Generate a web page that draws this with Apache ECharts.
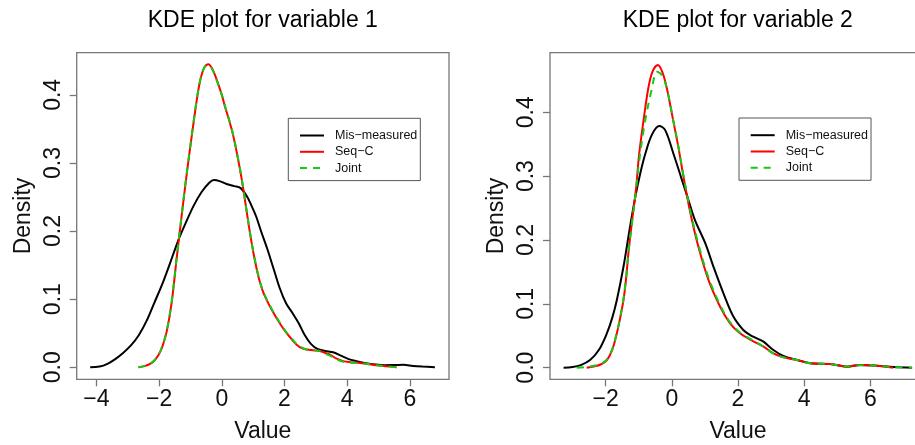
<!DOCTYPE html>
<html>
<head>
<meta charset="utf-8">
<script src="https://cdn.jsdelivr.net/npm/echarts@6/dist/echarts.min.js"></script>
<style>html,body{margin:0;padding:0;background:#fff}#c{width:915px;height:445px}</style>
</head>
<body>
<div id="c"></div>
<script>
// ---- Data ----
const titles = ['KDE plot for variable 1', 'KDE plot for variable 2'];
const seriesNames = ['Mis\u2212measured', 'Seq\u2212C', 'Joint'];
const xTicks1 = [-4, -2, 0, 2, 4, 6];
const xTicks2 = [-2, 0, 2, 4, 6];
const yTicks = [0, 0.1, 0.2, 0.3, 0.4];

// Variable 1
const v1MisX = [-4.20,-3.90,-3.65,-3.40,-3.15,-2.90,-2.65,-2.40,-2.15,-1.90,-1.65,-1.40,-1.15,-0.90,-0.65,-0.40,-0.25,-0.05,0.15,0.40,0.60,0.80,0.95,1.10,1.25,1.45,1.65,1.85,2.05,2.25,2.45,2.65,2.85,3.05,3.30,3.55,3.80,4.05,4.30,4.60,4.90,5.20,5.50,5.80,6.10,6.40,6.80];
const v1MisY = [0.000,0.001,0.005,0.012,0.021,0.032,0.047,0.068,0.095,0.122,0.153,0.185,0.212,0.237,0.257,0.271,0.275,0.273,0.269,0.266,0.263,0.251,0.237,0.221,0.200,0.174,0.145,0.116,0.094,0.080,0.065,0.047,0.034,0.027,0.024,0.022,0.017,0.012,0.009,0.006,0.004,0.003,0.0032,0.0035,0.002,0.001,0.000];
const v1SeqX = [-2.66,-2.45,-2.29,-2.15,-2.02,-1.90,-1.76,-1.60,-1.44,-1.30,-1.17,-1.04,-0.91,-0.80,-0.69,-0.56,-0.43,-0.30,-0.16,0.00,0.10,0.25,0.37,0.50,0.64,0.77,0.90,1.03,1.17,1.30,1.43,1.60,1.75,1.90,2.07,2.25,2.39,2.55,2.71,2.90,3.13,3.30,3.45,3.65,3.88,4.10,4.41,4.70,4.94,5.25,5.58];
const v1SeqY = [0.000,0.002,0.005,0.010,0.018,0.030,0.052,0.095,0.160,0.215,0.265,0.312,0.356,0.392,0.421,0.440,0.445,0.438,0.422,0.400,0.383,0.360,0.339,0.310,0.275,0.236,0.197,0.163,0.133,0.113,0.099,0.084,0.072,0.061,0.050,0.040,0.033,0.028,0.026,0.025,0.024,0.021,0.0186,0.013,0.009,0.0075,0.0064,0.0045,0.003,0.0015,0.000];
const v1JointX = [-2.66,-2.45,-2.29,-2.15,-2.02,-1.90,-1.76,-1.60,-1.44,-1.30,-1.17,-1.04,-0.91,-0.80,-0.69,-0.56,-0.43,-0.30,-0.16,0.00,0.10,0.25,0.37,0.50,0.64,0.77,0.90,1.03,1.17,1.30,1.43,1.60,1.75,1.90,2.07,2.25,2.39,2.55,2.71,2.90,3.13,3.30,3.45,3.65,3.88,4.10,4.41,4.70,4.94,5.25,5.58];
const v1JointY = [0.000,0.002,0.005,0.010,0.018,0.031,0.053,0.096,0.161,0.216,0.266,0.313,0.357,0.393,0.421,0.440,0.444,0.437,0.421,0.400,0.384,0.361,0.340,0.311,0.276,0.237,0.198,0.164,0.134,0.114,0.100,0.085,0.073,0.062,0.051,0.041,0.034,0.029,0.026,0.025,0.024,0.020,0.017,0.012,0.008,0.007,0.006,0.0045,0.003,0.0015,0.000];

// Variable 2
const v2MisX = [-3.27,-3.00,-2.75,-2.47,-2.20,-1.96,-1.80,-1.66,-1.46,-1.28,-1.10,-0.95,-0.80,-0.60,-0.38,-0.20,0.05,0.30,0.50,0.70,1.01,1.26,1.56,1.86,2.16,2.37,2.57,2.77,3.07,3.37,3.78,4.18,4.50,4.78,5.29,5.69,6.19,6.70,7.26];
const v2MisY = [0.000,0.001,0.004,0.012,0.028,0.054,0.078,0.106,0.158,0.215,0.268,0.305,0.335,0.365,0.3785,0.372,0.335,0.295,0.263,0.231,0.195,0.158,0.1165,0.080,0.059,0.051,0.046,0.0407,0.0277,0.0183,0.012,0.0069,0.0060,0.0058,0.0016,0.0042,0.0031,0.001,0.000];
const v2SeqX = [-2.57,-2.35,-2.15,-1.96,-1.80,-1.66,-1.56,-1.46,-1.38,-1.31,-1.20,-1.08,-0.99,-0.86,-0.71,-0.58,-0.42,-0.28,-0.15,0.05,0.20,0.35,0.55,0.80,1.11,1.46,1.76,2.06,2.37,2.77,3.07,3.37,3.78,4.18,4.78,5.29,5.69,6.19,6.69];
const v2SeqY = [0.000,0.002,0.005,0.012,0.028,0.054,0.078,0.106,0.140,0.180,0.230,0.281,0.333,0.385,0.4376,0.464,0.474,0.462,0.4376,0.385,0.345,0.300,0.245,0.190,0.137,0.0955,0.0695,0.054,0.044,0.033,0.0225,0.0163,0.012,0.0069,0.0058,0.0016,0.0042,0.0031,0.000];
const v2JointX = [-2.87,-2.60,-2.35,-2.15,-1.96,-1.80,-1.66,-1.56,-1.46,-1.38,-1.31,-1.20,-1.08,-0.99,-0.81,-0.60,-0.45,-0.30,-0.15,0.05,0.20,0.35,0.55,0.80,1.11,1.46,1.76,2.06,2.37,2.77,3.07,3.37,3.78,4.18,4.78,5.29,5.69,6.19,6.70,7.26];
const v2JointY = [0.000,0.001,0.003,0.006,0.013,0.029,0.055,0.079,0.108,0.142,0.180,0.228,0.278,0.322,0.385,0.4376,0.4636,0.458,0.437,0.386,0.346,0.302,0.248,0.194,0.141,0.098,0.071,0.055,0.045,0.033,0.022,0.0165,0.012,0.007,0.0057,0.0018,0.0040,0.0031,0.001,0.000];

// ---- Build chart ----
const FONT = 'Liberation Sans, Arial, Helvetica, sans-serif';
const zip = (xs, ys) => xs.map((x, i) => [x, ys[i]]);
const minus = s => String(s).replace('-', '\u2212');
const colors = ['#000000', '#ff0000', '#11cc11'];
const dashes = ['solid', 'solid', [7, 6]];

const panels = [
  {grid: {left: 76.7, top: 52.7, width: 372.3, height: 326.6}, xMin: -4.63, xMax: 7.25, yMin: -0.0177, yMax: 0.4619, xTicks: xTicks1,
   data: [zip(v1MisX, v1MisY), zip(v1SeqX, v1SeqY), zip(v1JointX, v1JointY)], legend: {left: 288.3, top: 118.3}, title: {x: 262.8}},
  {grid: {left: 550, top: 52.7, width: 376, height: 326.6}, xMin: -3.68, xMax: 7.68, yMin: -0.0182, yMax: 0.4933, xTicks: xTicks2,
   data: [zip(v2MisX, v2MisY), zip(v2SeqX, v2SeqY), zip(v2JointX, v2JointY)], legend: {left: 739, top: 118}, title: {x: 737.8}}
];

const option = {
  animation: false,
  backgroundColor: '#ffffff',
  textStyle: {fontFamily: FONT},
  graphic: panels.map((p, i) => ({
    type: 'text', x: p.title.x, y: 21,
    style: {text: titles[i], fontSize: 23, fontFamily: FONT, fill: '#000', align: 'center', verticalAlign: 'middle'}
  })),
  grid: panels.map(p => Object.assign({show: true, borderColor: '#777', borderWidth: 1.3, backgroundColor: 'transparent',
    containLabel: false, outerBoundsMode: 'none'}, p.grid)),
  xAxis: panels.map((p, i) => ({
    type: 'value', gridIndex: i, min: p.xMin, max: p.xMax, position: 'bottom',
    axisLine: {show: false, onZero: false}, splitLine: {show: false},
    axisTick: {show: true, length: 7, lineStyle: {color: '#777', width: 1.3}, customValues: p.xTicks},
    axisLabel: {customValues: p.xTicks, fontSize: 23, color: '#111', margin: 9, fontFamily: FONT, formatter: v => minus(v)},
    name: 'Value', nameLocation: 'middle', nameGap: 41,
    nameTextStyle: {fontSize: 23, color: '#111', fontFamily: FONT}
  })),
  yAxis: panels.map((p, i) => ({
    type: 'value', gridIndex: i, min: p.yMin, max: p.yMax, position: 'left',
    axisLine: {show: false, onZero: false}, splitLine: {show: false},
    axisTick: {show: true, length: 7, lineStyle: {color: '#777', width: 1.3}, customValues: yTicks},
    axisLabel: {customValues: yTicks, fontSize: 23, color: '#111', margin: 12, rotate: 90, fontFamily: FONT, formatter: v => v.toFixed(1)},
    name: 'Density', nameLocation: 'middle', nameGap: 42,
    nameTextStyle: {fontSize: 23, color: '#111', fontFamily: FONT}
  })),
  legend: panels.map(p => ({
    orient: 'vertical', left: p.legend.left, top: p.legend.top, data: seriesNames,
    itemWidth: 24, itemHeight: 12, itemGap: 3.3, padding: [10.7, 3, 6, 10.7],
    borderColor: '#555', borderWidth: 1, selectedMode: false,
    itemStyle: {opacity: 0},
    textStyle: {fontSize: 12.5, color: '#111', fontFamily: FONT, padding: [0, 0, 0, 6]}
  })),
  series: []
};

panels.forEach((p, gi) => {
  seriesNames.forEach((name, si) => {
    option.series.push({
      type: 'line', name: name, xAxisIndex: gi, yAxisIndex: gi,
      data: p.data[si], smooth: 0.35, symbol: 'none', clip: true,
      itemStyle: {color: colors[si]},
      lineStyle: {color: colors[si], width: 2, type: dashes[si]}
    });
  });
});

const chart = echarts.init(document.getElementById('c'), null, {renderer: 'canvas'});
chart.setOption(option);
</script>
</body>
</html>
